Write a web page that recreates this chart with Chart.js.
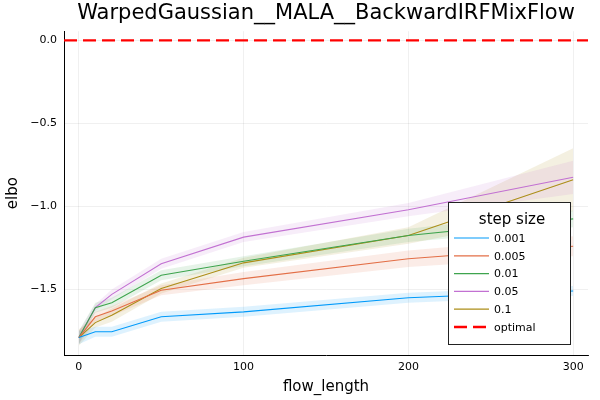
<!DOCTYPE html>
<html>
<head>
<meta charset="utf-8">
<script src="https://cdn.jsdelivr.net/npm/chart.js@4.4.0/dist/chart.umd.min.js"></script>
<style>
  html, body { margin: 0; padding: 0; background: #fff; }
  #wrap { width: 600px; height: 400px; }
</style>
</head>
<body>
<div id="wrap"><canvas id="c" width="600" height="400"></canvas></div>
<script>
// data
const flowLength = [0, 10, 20, 50, 100, 200, 300];
const stepSizes = ["0.001", "0.005", "0.01", "0.05", "0.1"];

const elbo0001 = [-1.79, -1.755, -1.755, -1.665, -1.635, -1.55, -1.51];
const elbo0005 = [-1.79, -1.665, -1.63, -1.505, -1.435, -1.315, -1.24];
const elbo001  = [-1.79, -1.61, -1.58, -1.415, -1.33, -1.175, -1.075];
const elbo005  = [-1.79, -1.61, -1.53, -1.345, -1.185, -1.02, -0.825];
const elbo01   = [-1.79, -1.70, -1.655, -1.495, -1.34, -1.175, -0.84];

// spread of the shaded bands (half width)
const sd0001 = [0.04, 0.03, 0.03, 0.03, 0.03, 0.03, 0.03];
const sd0005 = [0.04, 0.03, 0.03, 0.03, 0.04, 0.05, 0.06];
const sd001  = [0.04, 0.03, 0.03, 0.03, 0.03, 0.04, 0.05];
const sd005  = [0.04, 0.02, 0.03, 0.03, 0.03, 0.04, 0.10];
const sd01   = [0.05, 0.03, 0.04, 0.03, 0.03, 0.05, 0.19];

const optimalElbo = 0;

const xTicks = [0, 100, 200, 300];
const yTicks = [0, -0.5, -1, -1.5];
const xMin = -9, xMax = 309;
const yMin = -1.895, yMax = 0.055;

const colors = ["#009AFA", "#E36F47", "#3EA44E", "#C271D2", "#AC8E18"];
const allElbo = [elbo0001, elbo0005, elbo001, elbo005, elbo01];
const allSd = [sd0001, sd0005, sd001, sd005, sd01];

function rgba(hex, a) {
    const n = parseInt(hex.slice(1), 16);
    return `rgba(${(n >> 16) & 255}, ${(n >> 8) & 255}, ${n & 255}, ${a})`;
}

const datasets = [];
stepSizes.forEach((s, i) => {
    const m = allElbo[i], sd = allSd[i];
    // band: lower then upper filled to lower
    datasets.push({
        label: "lo " + s,
        data: flowLength.map((x, k) => ({ x: x, y: m[k] - sd[k] })),
        borderWidth: 0, pointRadius: 0, fill: false, order: 2,
    });
    datasets.push({
        label: "hi " + s,
        data: flowLength.map((x, k) => ({ x: x, y: m[k] + sd[k] })),
        borderWidth: 0, pointRadius: 0,
        fill: "-1", backgroundColor: rgba(colors[i], 0.13), order: 2,
    });
});
stepSizes.forEach((s, i) => {
    datasets.push({
        label: s,
        data: flowLength.map((x, k) => ({ x: x, y: allElbo[i][k] })),
        borderColor: colors[i], borderWidth: 1.1,
        pointRadius: 0, fill: false, order: 1,
    });
});
datasets.push({
    label: "optimal",
    data: [{ x: xMin, y: optimalElbo }, { x: xMax, y: optimalElbo }],
    borderColor: "#FF0000", borderWidth: 2.4, borderDash: [13, 6],
    pointRadius: 0, fill: false, order: 0,
});

//legend box drawn inside plot, like the Julia one
const legendBox = {
    id: "legendBox",
    afterDraw(chart) {
        const ctx = chart.ctx;
        const x0 = 448, y0 = 202, w = 122, h = 142;
        ctx.save();
        ctx.fillStyle = "#fff";
        ctx.fillRect(x0, y0, w, h);
        ctx.strokeStyle = "#222";
        ctx.lineWidth = 1;
        ctx.strokeRect(x0 + 0.5, y0 + 0.5, w, h);
        ctx.fillStyle = "#000";
        ctx.font = "15px 'DejaVu Sans'";
        ctx.textAlign = "center";
        ctx.textBaseline = "middle";
        ctx.fillText("step size", x0 + w / 2 + 3, 220);
        ctx.font = "11px 'DejaVu Sans'";
        ctx.textAlign = "left";
        const labels = stepSizes.concat(["optimal"]);
        labels.forEach((lab, i) => {
            const y = 238 + i * 17.8;
            ctx.beginPath();
            ctx.moveTo(454, y);
            ctx.lineTo(489, y);
            if (i < stepSizes.length) {
                ctx.strokeStyle = colors[i];
                ctx.lineWidth = 1.2;
                ctx.setLineDash([]);
            } else {
                ctx.strokeStyle = "#FF0000";
                ctx.lineWidth = 2.4;
                ctx.setLineDash([13, 6]);
            }
            ctx.stroke();
            ctx.setLineDash([]);
            ctx.fillStyle = "#000";
            ctx.fillText(lab, 494, y + 1);
        });
        ctx.restore();
    },
};

const fmt = (v) => (v < 0 ? "\u2212" + Math.abs(v).toFixed(1) : v.toFixed(1));

new Chart(document.getElementById("c"), {
    type: "line",
    data: { datasets: datasets },
    options: {
        responsive: false,
        animation: false,
        layout: { padding: { left: 0, right: 12, top: 0, bottom: 0 } },
        plugins: {
            legend: { display: false },
            tooltip: { enabled: false },
            title: {
                display: true,
                text: "WarpedGaussian__MALA__BackwardIRFMixFlow",
                fullSize: false,
                color: "#000",
                font: { family: "'DejaVu Sans'", size: 21, weight: "normal" },
                padding: { top: 1, bottom: 5 },
            },
        },
        scales: {
            x: {
                type: "linear",
                min: xMin, max: xMax,
                afterBuildTicks: (sc) => { sc.ticks = xTicks.map((v) => ({ value: v })); },
                afterFit: (sc) => { sc.height = 45; },
                grid: { color: "rgba(0,0,0,0.08)", lineWidth: 0.8, drawTicks: false },
                border: { color: "#000", width: 1 },
                ticks: {
                    color: "#000", padding: 6,
                    font: { family: "'DejaVu Sans'", size: 11 },
                    maxRotation: 0,
                },
                title: {
                    display: true, text: "flow_length", color: "#000",
                    font: { family: "'DejaVu Sans'", size: 15 },
                    padding: { top: 0, bottom: 4 },
                },
            },
            y: {
                type: "linear",
                min: yMin, max: yMax,
                afterBuildTicks: (sc) => { sc.ticks = yTicks.map((v) => ({ value: v })); },
                afterFit: (sc) => { sc.width = 64; },
                grid: { color: "rgba(0,0,0,0.08)", lineWidth: 0.8, drawTicks: false },
                border: { color: "#000", width: 1 },
                ticks: {
                    color: "#000", padding: 7,
                    font: { family: "'DejaVu Sans'", size: 11 },
                    callback: (v) => fmt(v),
                },
                title: {
                    display: true, text: "elbo", color: "#000",
                    font: { family: "'DejaVu Sans'", size: 15 },
                    padding: { top: 4, bottom: 0 },
                },
            },
        },
    },
    plugins: [legendBox],
});
</script>
</body>
</html>
